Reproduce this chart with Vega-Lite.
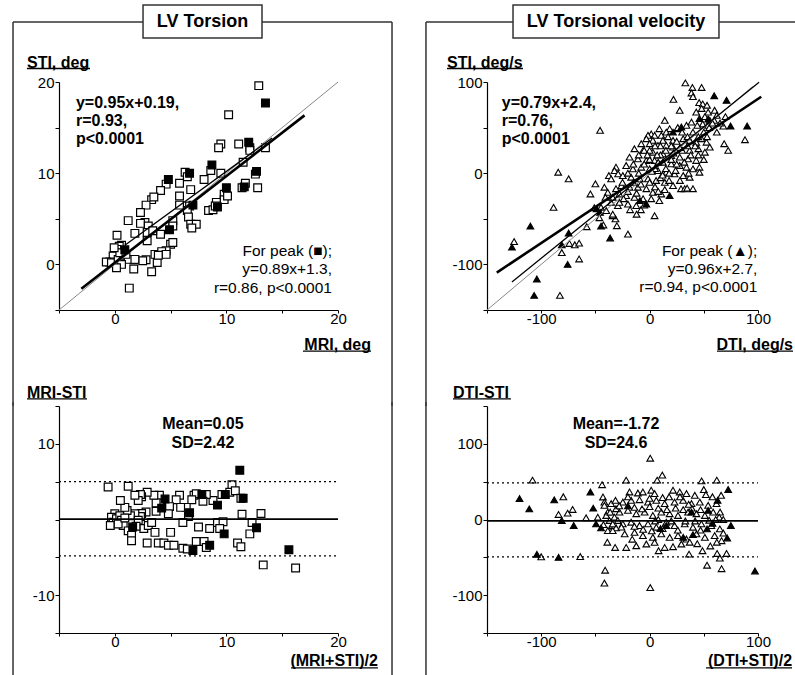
{
"$schema":"https://vega.github.io/schema/vega-lite/v6.json",
"padding":{"left":12,"top":4,"right":0,"bottom":0},
"bounds":"flush",
"columns":2,
"spacing":{"row":96,"column":149},
"config":{"font":"Liberation Sans","view":{"stroke":null},"axis":{"grid":false,"domainColor":"black","tickColor":"black","labelColor":"black","labelFont":"Liberation Sans","labelFontSize":15,"tickSize":4,"labelPadding":1,"labelFlush":false,"labelOverlap":false,"domainWidth":1.2,"tickWidth":1},"axisX":{"tickSize":3,"labelPadding":-2}},
"datasets":{
"tl":[
{"x":12.9,"y":19.6,"p":0},{"x":10.2,"y":16.4,"p":0},{"x":9.5,"y":13.2,"p":0},{"x":9.3,"y":12.8,"p":0},{"x":11.1,"y":13.2,"p":0},{"x":12.1,"y":12.8,"p":0},{"x":12.1,"y":12.5,"p":0},{"x":13.5,"y":12.8,"p":0},{"x":11.5,"y":11.2,"p":0},{"x":8.6,"y":10.3,"p":0},{"x":6.3,"y":10.1,"p":0},{"x":6.5,"y":9.6,"p":0},{"x":4.6,"y":8.8,"p":0},{"x":5.8,"y":8.9,"p":0},{"x":4.1,"y":8.1,"p":0},{"x":8.0,"y":9.3,"p":0},{"x":6.8,"y":8.2,"p":0},{"x":9.5,"y":10.0,"p":0},{"x":12.6,"y":9.9,"p":0},{"x":11.7,"y":8.9,"p":0},{"x":11.4,"y":8.4,"p":0},{"x":12.8,"y":8.4,"p":0},{"x":9.8,"y":7.7,"p":0},{"x":9.8,"y":7.1,"p":0},{"x":9.1,"y":6.8,"p":0},{"x":8.4,"y":5.9,"p":0},{"x":8.8,"y":6.0,"p":0},{"x":6.7,"y":6.4,"p":0},{"x":5.8,"y":6.5,"p":0},{"x":6.5,"y":5.9,"p":0},{"x":6.6,"y":5.2,"p":0},{"x":6.8,"y":4.4,"p":0},{"x":7.3,"y":4.4,"p":0},{"x":5.8,"y":7.5,"p":0},{"x":5.2,"y":4.8,"p":0},{"x":5.2,"y":4.2,"p":0},{"x":5.0,"y":2.2,"p":0},{"x":5.2,"y":2.4,"p":0},{"x":4.6,"y":1.5,"p":0},{"x":4.1,"y":3.3,"p":0},{"x":3.3,"y":7.1,"p":0},{"x":3.5,"y":7.4,"p":0},{"x":2.8,"y":6.5,"p":0},{"x":2.3,"y":5.7,"p":0},{"x":2.7,"y":4.6,"p":0},{"x":2.3,"y":4.5,"p":0},{"x":3.0,"y":4.2,"p":0},{"x":2.9,"y":3.5,"p":0},{"x":2.9,"y":2.6,"p":0},{"x":1.2,"y":4.8,"p":0},{"x":1.8,"y":3.4,"p":0},{"x":0.6,"y":2.1,"p":0},{"x":0.2,"y":3.2,"p":0},{"x":0.4,"y":2.0,"p":0},{"x":1.7,"y":-0.5,"p":0},{"x":3.3,"y":-0.8,"p":0},{"x":1.3,"y":-2.6,"p":0},{"x":1.7,"y":0.5,"p":0},{"x":2.8,"y":0.5,"p":0},{"x":3.6,"y":1.1,"p":0},{"x":4.2,"y":1.4,"p":0},{"x":4.6,"y":1.1,"p":0},{"x":3.8,"y":0.2,"p":0},{"x":2.5,"y":0.4,"p":0},{"x":0.18,"y":1.65,"p":0},{"x":0,"y":1.28,"p":0},{"x":-0.15,"y":0.92,"p":0},{"x":-0.45,"y":0.26,"p":0},{"x":-0.76,"y":0.26,"p":0},{"x":-0.3,"y":0.18,"p":0},{"x":0.3,"y":0.55,"p":0},{"x":0.76,"y":0.92,"p":0},{"x":1.2,"y":0.55,"p":0},{"x":1.8,"y":0.55,"p":0},{"x":0.45,"y":1.28,"p":0},{"x":-0.06,"y":1.83,"p":0},{"x":0.6,"y":0,"p":0},{"x":0.15,"y":-0.37,"p":0},{"x":9.0,"y":6.4,"p":0},{"x":10.1,"y":7.5,"p":0},{"x":3.4,"y":3.7,"p":0},{"x":3.9,"y":1.0,"p":0},{"x":1.0,"y":1.1,"p":0},{"x":6.9,"y":4.0,"p":0},
{"x":13.5,"y":17.7,"p":1},{"x":12.0,"y":13.4,"p":1},{"x":8.7,"y":10.9,"p":1},{"x":6.7,"y":10.0,"p":1},{"x":4.8,"y":9.3,"p":1},{"x":12.7,"y":10.2,"p":1},{"x":11.6,"y":8.5,"p":1},{"x":10.0,"y":8.4,"p":1},{"x":9.2,"y":6.3,"p":1},{"x":7.0,"y":6.5,"p":1},{"x":4.9,"y":3.8,"p":1},{"x":0.9,"y":1.6,"p":1}],
"tl_lines":[{"g":"id","x":-5,"y":-5},{"g":"id","x":20,"y":20},{"g":"fit","x":-3,"y":-2.66},{"g":"fit","x":17,"y":16.34},{"g":"peak","x":0.9,"y":2.1},{"g":"peak","x":14.1,"y":13.85}],
"tr":[
{"x":-45.7,"y":47,"p":0},{"x":-84.3,"y":1.1,"p":0},{"x":-74.7,"y":-6.2,"p":0},{"x":-50,"y":-11.7,"p":0},{"x":-54.6,"y":-22.8,"p":0},{"x":-88.6,"y":-37.4,"p":0},{"x":-125,"y":-75,"p":0},{"x":-74,"y":-77,"p":0},{"x":-69,"y":-78.5,"p":0},{"x":-65,"y":-76.7,"p":0},{"x":-81,"y":-87,"p":0},{"x":-65,"y":-94,"p":0},{"x":-82.7,"y":-134,"p":0},{"x":-58,"y":-58.7,"p":0},{"x":-31,"y":6.6,"p":0},{"x":-32.4,"y":2.9,"p":0},{"x":-37.6,"y":-2.6,"p":0},{"x":-35.5,"y":-6.2,"p":0},{"x":-29,"y":-0.7,"p":0},{"x":-41.7,"y":-15.4,"p":0},{"x":-31,"y":-17,"p":0},{"x":-38.6,"y":-21,"p":0},{"x":-34,"y":-26.4,"p":0},{"x":-40.7,"y":-26.4,"p":0},{"x":-29.3,"y":-35.6,"p":0},{"x":-35.5,"y":-32,"p":0},{"x":-31.5,"y":-50,"p":0},{"x":-30.2,"y":-57.6,"p":0},{"x":-44.8,"y":-37.4,"p":0},{"x":-40,"y":-41,"p":0},{"x":-34,"y":-46.6,"p":0},{"x":-51,"y":-37.8,"p":0},{"x":-46.3,"y":-48.8,"p":0},{"x":-42.6,"y":-56.8,"p":0},{"x":-34,"y":-45,"p":0},
{"x":33,"y":99,"p":0},{"x":39.5,"y":94,"p":0},{"x":48,"y":94,"p":0},{"x":38.6,"y":88,"p":0},{"x":40,"y":84,"p":0},{"x":22,"y":81,"p":0},{"x":45.7,"y":77.4,"p":0},{"x":49,"y":76,"p":0},{"x":53,"y":74.5,"p":0},{"x":48,"y":71,"p":0},{"x":54,"y":67,"p":0},{"x":27.8,"y":69,"p":0},{"x":60,"y":69,"p":0},{"x":62,"y":63.5,"p":0},{"x":43,"y":67,"p":0},{"x":14,"y":58,"p":0},{"x":51,"y":62,"p":0},{"x":55.5,"y":58,"p":0},{"x":59.6,"y":58,"p":0},{"x":49,"y":54,"p":0},{"x":54,"y":52.5,"p":0},{"x":44,"y":52.5,"p":0},{"x":38.6,"y":56,"p":0},{"x":34,"y":52.5,"p":0},{"x":18.5,"y":48.8,"p":0},{"x":25.7,"y":48.8,"p":0},{"x":68,"y":51.7,"p":0},{"x":9,"y":48.8,"p":0},{"x":15.4,"y":45,"p":0},{"x":1.5,"y":43,"p":0},{"x":-1.5,"y":41.5,"p":0},{"x":4.6,"y":41.5,"p":0},{"x":10.8,"y":41.5,"p":0},{"x":-3,"y":37.8,"p":0},{"x":3,"y":36,"p":0},{"x":12.3,"y":36,"p":0},{"x":21.6,"y":36,"p":0},{"x":31,"y":37.8,"p":0},{"x":37,"y":36,"p":0},{"x":43,"y":34,"p":0},{"x":48,"y":37.8,"p":0},{"x":52.5,"y":34,"p":0},{"x":88,"y":36.7,"p":0},{"x":68.8,"y":32.3,"p":0},{"x":72.5,"y":25,"p":0},{"x":55.5,"y":28.6,"p":0},{"x":51,"y":23,"p":0},{"x":45,"y":26.8,"p":0},{"x":37,"y":25,"p":0},{"x":29,"y":26.8,"p":0},{"x":21.6,"y":28.6,"p":0},{"x":15.4,"y":30.5,"p":0},{"x":7.7,"y":30.5,"p":0},{"x":0,"y":32.3,"p":0},{"x":-7.7,"y":32.3,"p":0},{"x":-14,"y":26.8,"p":0},{"x":-6,"y":25,"p":0},{"x":3,"y":23,"p":0},{"x":12.3,"y":21.3,"p":0},{"x":20,"y":19.4,"p":0},{"x":27.8,"y":17.6,"p":0},{"x":35.5,"y":15.8,"p":0},{"x":43,"y":14,"p":0},{"x":46,"y":6.6,"p":0},{"x":46,"y":1.1,"p":0},{"x":-18.5,"y":17.6,"p":0},{"x":-10.8,"y":15.8,"p":0},{"x":-3,"y":14,"p":0},{"x":4.6,"y":14,"p":0},{"x":12.3,"y":12,"p":0},{"x":20,"y":10.3,"p":0},{"x":27.8,"y":8.4,"p":0},{"x":34,"y":6.6,"p":0},{"x":40,"y":4.8,"p":0},{"x":-21.6,"y":8.4,"p":0},{"x":-15.4,"y":4.8,"p":0},{"x":-7.7,"y":6.6,"p":0},{"x":0,"y":4.8,"p":0},{"x":7.7,"y":2.9,"p":0},{"x":15.4,"y":1.1,"p":0},{"x":23,"y":-0.7,"p":0},{"x":31,"y":-2.6,"p":0},{"x":37,"y":-4.4,"p":0},{"x":-24.7,"y":-2.6,"p":0},{"x":-17,"y":-4.4,"p":0},{"x":-9,"y":-6.2,"p":0},{"x":-1.5,"y":-6.2,"p":0},{"x":6,"y":-8,"p":0},{"x":14,"y":-10,"p":0},{"x":21.6,"y":-13.6,"p":0},{"x":29,"y":-17,"p":0},{"x":32.4,"y":-17,"p":0},{"x":34.6,"y":-16.5,"p":0},{"x":40,"y":-17,"p":0},{"x":-26,"y":-13.6,"p":0},{"x":-18.5,"y":-15.4,"p":0},{"x":-10.8,"y":-15.4,"p":0},{"x":-3,"y":-17,"p":0},{"x":3,"y":-21,"p":0},{"x":10.8,"y":-22.8,"p":0},{"x":-27.8,"y":-22.8,"p":0},{"x":-21.6,"y":-24.6,"p":0},{"x":-14,"y":-26.4,"p":0},{"x":-6,"y":-28,"p":0},{"x":1.5,"y":-28,"p":0},{"x":9,"y":-30,"p":0},{"x":-27.8,"y":-32,"p":0},{"x":-20,"y":-33.8,"p":0},{"x":-12.3,"y":-35.6,"p":0},{"x":4.6,"y":-46.6,"p":0},{"x":-20,"y":-66.8,"p":0},
{"x":-10,"y":0,"p":0},{"x":-5,"y":10,"p":0},{"x":0,"y":15,"p":0},{"x":5,"y":5,"p":0},{"x":10,"y":20,"p":0},{"x":15,"y":25,"p":0},{"x":20,"y":30,"p":0},{"x":25,"y":35,"p":0},{"x":30,"y":25,"p":0},{"x":35,"y":40,"p":0},{"x":-15,"y":-10,"p":0},{"x":-20,"y":-20,"p":0},{"x":-25,"y":-10,"p":0},{"x":0,"y":-10,"p":0},{"x":5,"y":-15,"p":0},{"x":10,"y":-5,"p":0},{"x":15,"y":5,"p":0},{"x":20,"y":15,"p":0},{"x":25,"y":10,"p":0},{"x":30,"y":45,"p":0},{"x":35,"y":30,"p":0},{"x":40,"y":45,"p":0},{"x":45,"y":40,"p":0},{"x":10,"y":30,"p":0},{"x":-5,"y":25,"p":0},{"x":0,"y":25,"p":0},{"x":5,"y":30,"p":0},{"x":-10,"y":20,"p":0},{"x":-15,"y":10,"p":0},{"x":-20,"y":0,"p":0},{"x":18,"y":0,"p":0},{"x":12,"y":-2,"p":0},{"x":22,"y":22,"p":0},{"x":28,"y":28,"p":0},{"x":8,"y":12,"p":0},{"x":2,"y":2,"p":0},{"x":-8,"y":-12,"p":0},{"x":-12,"y":-22,"p":0},{"x":38,"y":20,"p":0},{"x":42,"y":30,"p":0},{"x":50,"y":45,"p":0},{"x":55,"y":50,"p":0},{"x":58,"y":55,"p":0},{"x":26,"y":50,"p":0},{"x":8,"y":-20,"p":0},{"x":14,"y":-18,"p":0},{"x":-24,"y":-28,"p":0},{"x":-8,"y":-40,"p":0},{"x":17,"y":40,"p":0},{"x":7,"y":20,"p":0},{"x":-2,"y":20,"p":0},{"x":24,"y":3,"p":0},{"x":32,"y":12,"p":0},{"x":45,"y":20,"p":0},{"x":53,"y":40,"p":0},{"x":62,"y":45,"p":0},{"x":65,"y":55,"p":0},{"x":70,"y":62,"p":0},{"x":-18,"y":-40,"p":0},{"x":-12,"y":-45,"p":0},{"x":-5,"y":-35,"p":0},{"x":18,"y":-8,"p":0},{"x":28,"y":-8,"p":0},{"x":36,"y":0,"p":0},{"x":50,"y":15,"p":0},
{"x":-110,"y":-58,"p":1},{"x":-127,"y":-81,"p":1},{"x":-74.7,"y":-65.7,"p":1},{"x":-81,"y":-78.5,"p":1},{"x":-75.6,"y":-100,"p":1},{"x":-104,"y":-116,"p":1},{"x":-106.5,"y":-134,"p":1},{"x":-44.8,"y":-58,"p":1},{"x":-36.4,"y":-71,"p":1},{"x":-48.8,"y":-39,"p":1},{"x":-45.7,"y":-43,"p":1},{"x":59.6,"y":85,"p":1},{"x":71,"y":80,"p":1},{"x":46,"y":60,"p":1},{"x":29.3,"y":50.6,"p":1},{"x":21.6,"y":45,"p":1},{"x":74.7,"y":51.7,"p":1},{"x":90,"y":51.7,"p":1},{"x":-9,"y":-30,"p":1},{"x":-3,"y":-33.8,"p":1},{"x":18.5,"y":-24.6,"p":1},{"x":54,"y":59.5,"p":1}],
"tr_lines":[{"g":"id","x":-150,"y":-150},{"g":"id","x":95,"y":95},{"g":"fit","x":-141,"y":-109},{"g":"fit","x":103,"y":83.8},{"g":"peak","x":-127,"y":-119.2},{"g":"peak","x":101,"y":99.7}],
"bl":[
{"x":-0.6,"y":4.3,"p":0},{"x":1.2,"y":4.4,"p":0},{"x":10.5,"y":4.6,"p":0},{"x":10.3,"y":3.6,"p":0},{"x":9.6,"y":3.3,"p":0},{"x":10.8,"y":3.8,"p":0},{"x":8.8,"y":2.5,"p":0},{"x":8.2,"y":3.3,"p":0},{"x":7.9,"y":2.4,"p":0},{"x":7.1,"y":3.2,"p":0},{"x":7.3,"y":3.4,"p":0},{"x":6.9,"y":2.6,"p":0},{"x":5.8,"y":3.2,"p":0},{"x":5.5,"y":2.6,"p":0},{"x":6.4,"y":1.6,"p":0},{"x":5.9,"y":1.6,"p":0},{"x":6.6,"y":0.4,"p":0},{"x":6.1,"y":-0.4,"p":0},{"x":4.0,"y":3.2,"p":0},{"x":3.7,"y":2.2,"p":0},{"x":3.5,"y":3.2,"p":0},{"x":2.9,"y":3.6,"p":0},{"x":2.4,"y":3.0,"p":0},{"x":2.3,"y":3.3,"p":0},{"x":2.1,"y":2.5,"p":0},{"x":1.8,"y":3.2,"p":0},{"x":4.7,"y":1.6,"p":0},{"x":4.9,"y":1.7,"p":0},{"x":4.8,"y":0.75,"p":0},{"x":3.7,"y":1.1,"p":0},{"x":2.8,"y":1.0,"p":0},{"x":2.4,"y":0.8,"p":0},{"x":2.3,"y":0.4,"p":0},{"x":1.8,"y":0.75,"p":0},{"x":1.4,"y":0.5,"p":0},{"x":1.1,"y":1.2,"p":0},{"x":0.9,"y":1.6,"p":0},{"x":0.5,"y":2.5,"p":0},{"x":0,"y":0.75,"p":0},{"x":-0.3,"y":0.3,"p":0},{"x":-0.15,"y":-0.35,"p":0},{"x":0.15,"y":0.1,"p":0},{"x":0.45,"y":0.5,"p":0},{"x":0.6,"y":-0.1,"p":0},{"x":0.75,"y":-0.8,"p":0},{"x":1.2,"y":-1.5,"p":0},{"x":1.5,"y":-2.1,"p":0},{"x":1.5,"y":-2.8,"p":0},{"x":2.1,"y":-0.1,"p":0},{"x":2.6,"y":-1.2,"p":0},{"x":3.0,"y":-0.8,"p":0},{"x":3.3,"y":-0.4,"p":0},{"x":3.6,"y":-1.7,"p":0},{"x":2.9,"y":-3.1,"p":0},{"x":3.9,"y":-3.1,"p":0},{"x":4.4,"y":-3.1,"p":0},{"x":4.8,"y":-3.4,"p":0},{"x":5.3,"y":-3.4,"p":0},{"x":5.0,"y":-1.7,"p":0},{"x":6.1,"y":-3.8,"p":0},{"x":6.5,"y":-3.9,"p":0},{"x":7.3,"y":-2.9,"p":0},{"x":8.0,"y":-2.9,"p":0},{"x":8.2,"y":-3.7,"p":0},{"x":7.5,"y":-1.0,"p":0},{"x":8.5,"y":-1.2,"p":0},{"x":9.2,"y":-0.4,"p":0},{"x":9.7,"y":-0.3,"p":0},{"x":9.4,"y":-1.2,"p":0},{"x":11.0,"y":-3.1,"p":0},{"x":11.3,"y":-3.6,"p":0},{"x":11.4,"y":0.7,"p":0},{"x":12.3,"y":-0.4,"p":0},{"x":12.1,"y":-1.9,"p":0},{"x":13.1,"y":0.8,"p":0},{"x":13.3,"y":-6.0,"p":0},{"x":16.2,"y":-6.4,"p":0},{"x":11.3,"y":2.8,"p":0},{"x":-0.4,"y":-0.8,"p":0},{"x":0.3,"y":-0.6,"p":0},{"x":0.9,"y":0.2,"p":0},{"x":1.9,"y":-0.9,"p":0},
{"x":11.2,"y":6.5,"p":1},{"x":11.5,"y":2.8,"p":1},{"x":9.9,"y":3.3,"p":1},{"x":9.2,"y":1.9,"p":1},{"x":7.8,"y":3.3,"p":1},{"x":6.7,"y":0.9,"p":1},{"x":4.5,"y":2.7,"p":1},{"x":4.2,"y":1.5,"p":1},{"x":1.6,"y":-1.0,"p":1},{"x":7.0,"y":-4.1,"p":1},{"x":8.5,"y":-3.4,"p":1},{"x":9.8,"y":-1.9,"p":1},{"x":12.7,"y":-1.1,"p":1},{"x":15.6,"y":-4.0,"p":1}],
"br":[
{"x":0.6,"y":81,"p":0},{"x":-108,"y":52,"p":0},{"x":-79.6,"y":30,"p":0},{"x":-84,"y":6.7,"p":0},{"x":-75.6,"y":8.4,"p":0},{"x":-71,"y":13.3,"p":0},{"x":-58.6,"y":2.2,"p":0},{"x":-43.8,"y":46,"p":0},{"x":-43,"y":29.8,"p":0},{"x":-41.7,"y":23,"p":0},{"x":-47.8,"y":3,"p":0},{"x":-38.6,"y":9.8,"p":0},{"x":-37,"y":-1.3,"p":0},{"x":-34.6,"y":-8,"p":0},{"x":-30.9,"y":-11,"p":0},{"x":-35.5,"y":-14.7,"p":0},{"x":-39,"y":-30,"p":0},{"x":-31.8,"y":-37,"p":0},{"x":-100,"y":-49.3,"p":0},{"x":-64,"y":-49,"p":0},{"x":-41,"y":-67,"p":0},{"x":-41.7,"y":-84,"p":0},{"x":-21.6,"y":52,"p":0},{"x":11.7,"y":58.7,"p":0},{"x":7,"y":52,"p":0},{"x":48,"y":51,"p":0},{"x":62,"y":52,"p":0},{"x":50,"y":39.6,"p":0},{"x":65,"y":9.8,"p":0},{"x":53,"y":-60.4,"p":0},{"x":66.4,"y":-65,"p":0},{"x":36.4,"y":-45.8,"p":0},{"x":48.8,"y":-41.3,"p":0},{"x":62.3,"y":-44.9,"p":0},{"x":71,"y":-44.9,"p":0},{"x":64.8,"y":-51,"p":0},{"x":21.6,"y":-36,"p":0},{"x":8.3,"y":-41.3,"p":0},{"x":0.6,"y":-90,"p":0},
{"x":-18.5,"y":36.4,"p":0},{"x":-10.8,"y":35,"p":0},{"x":-6.2,"y":36.4,"p":0},{"x":1.5,"y":38.7,"p":0},{"x":4.6,"y":34.2,"p":0},{"x":21.6,"y":38.7,"p":0},{"x":27.8,"y":36.4,"p":0},{"x":34,"y":34.2,"p":0},{"x":41.7,"y":32,"p":0},{"x":51.9,"y":33,"p":0},{"x":-24.7,"y":23,"p":0},{"x":-17,"y":25.3,"p":0},{"x":-9.3,"y":26.2,"p":0},{"x":-1.5,"y":23,"p":0},{"x":6.2,"y":25.3,"p":0},{"x":13.9,"y":21,"p":0},{"x":23,"y":23,"p":0},{"x":30.9,"y":25.3,"p":0},{"x":38.6,"y":21,"p":0},{"x":46.3,"y":23,"p":0},{"x":54,"y":18.7,"p":0},{"x":61.7,"y":21,"p":0},{"x":-27.8,"y":9.8,"p":0},{"x":-20,"y":12,"p":0},{"x":-12.3,"y":7.6,"p":0},{"x":-4.6,"y":9.8,"p":0},{"x":3,"y":5.3,"p":0},{"x":10.8,"y":9.8,"p":0},{"x":18.5,"y":7.6,"p":0},{"x":26.2,"y":5.3,"p":0},{"x":35.5,"y":9.8,"p":0},{"x":43.2,"y":7.6,"p":0},{"x":51,"y":5.3,"p":0},{"x":58.6,"y":9.8,"p":0},{"x":64.2,"y":3.1,"p":0},{"x":-24.7,"y":-5.8,"p":0},{"x":-17,"y":-3.6,"p":0},{"x":-9.3,"y":-8,"p":0},{"x":-1.5,"y":-5.8,"p":0},{"x":6.2,"y":-10.2,"p":0},{"x":15.4,"y":-3.6,"p":0},{"x":23,"y":-8,"p":0},{"x":32.4,"y":-5.8,"p":0},{"x":40,"y":-10.2,"p":0},{"x":47.8,"y":-5.8,"p":0},{"x":57,"y":-8,"p":0},{"x":64.8,"y":-12.4,"p":0},{"x":-23,"y":-19,"p":0},{"x":-13.9,"y":-17,"p":0},{"x":-6.2,"y":-21.3,"p":0},{"x":3,"y":-23.6,"p":0},{"x":10.8,"y":-19,"p":0},{"x":18.5,"y":-23.6,"p":0},{"x":26.2,"y":-21.3,"p":0},{"x":34,"y":-25.8,"p":0},{"x":43.2,"y":-19,"p":0},{"x":51,"y":-23.6,"p":0},{"x":60,"y":-21.3,"p":0},{"x":66.4,"y":-28,"p":0},{"x":-21.6,"y":-36.9,"p":0},{"x":-12.3,"y":-34.7,"p":0},{"x":-3,"y":-32.4,"p":0},{"x":4.6,"y":-30.2,"p":0},{"x":13.9,"y":-36.9,"p":0},{"x":29.3,"y":-32.4,"p":0},{"x":-40,"y":5.3,"p":0},{"x":-36.4,"y":9.8,"p":0},{"x":-32.4,"y":3.1,"p":0},{"x":-29.3,"y":-1.3,"p":0},{"x":-34,"y":-5.8,"p":0},{"x":-42.6,"y":-6.7,"p":0},{"x":-31,"y":14.2,"p":0},{"x":-35.5,"y":21,"p":0},{"x":-31.5,"y":25.3,"p":0},{"x":-41.7,"y":18.7,"p":0},{"x":-38.6,"y":-14.7,"p":0},{"x":-34,"y":-14.7,"p":0},
{"x":-14,"y":16,"p":0},{"x":-7,"y":14,"p":0},{"x":0,"y":17,"p":0},{"x":8,"y":15,"p":0},{"x":16,"y":13,"p":0},{"x":24,"y":15,"p":0},{"x":31,"y":13,"p":0},{"x":39,"y":15,"p":0},{"x":47,"y":13,"p":0},{"x":55,"y":-1,"p":0},{"x":61,"y":0,"p":0},{"x":47,"y":-14,"p":0},{"x":37,"y":-30,"p":0},{"x":20,"y":-2,"p":0},{"x":8,"y":0,"p":0},{"x":-6,"y":-13,"p":0},{"x":2,"y":-15,"p":0},{"x":12,"y":-12,"p":0},{"x":26,"y":-14,"p":0},{"x":-26,"y":-10,"p":0},{"x":-16,"y":-26,"p":0},{"x":0,"y":28,"p":0},{"x":12,"y":29,"p":0},{"x":18,"y":30,"p":0},{"x":28,"y":30,"p":0},{"x":-20,"y":30,"p":0},{"x":-28,"y":18,"p":0},{"x":33,"y":-2,"p":0},{"x":42,"y":-2,"p":0},{"x":5,"y":-2,"p":0},{"x":-14,"y":-9,"p":0},{"x":36,"y":20,"p":0},{"x":44,"y":-32,"p":0},{"x":56,"y":-35,"p":0},{"x":62,"y":-30,"p":0},{"x":68,"y":-18,"p":0},{"x":68,"y":0,"p":0},{"x":58,"y":30,"p":0},{"x":66,"y":32,"p":0},
{"x":-120,"y":27.6,"p":1},{"x":-111,"y":14,"p":1},{"x":-88,"y":26,"p":1},{"x":-81,"y":-1.3,"p":1},{"x":-70,"y":-8,"p":1},{"x":-54.6,"y":36.4,"p":1},{"x":-52,"y":15,"p":1},{"x":-49.4,"y":-5.8,"p":1},{"x":-44.8,"y":-11,"p":1},{"x":-104,"y":-46,"p":1},{"x":-84,"y":-50,"p":1},{"x":72.5,"y":39.6,"p":1},{"x":62.7,"y":25.3,"p":1},{"x":54,"y":12,"p":1},{"x":53,"y":-12.4,"p":1},{"x":75,"y":-8,"p":1},{"x":71.6,"y":-24.4,"p":1},{"x":97.2,"y":-68,"p":1},{"x":31,"y":-23.6,"p":1},{"x":15.4,"y":-8,"p":1},{"x":38.6,"y":9.8,"p":1},{"x":-20,"y":18,"p":1},{"x":10,"y":-12,"p":1},{"x":40,"y":-20,"p":1},{"x":58,"y":-5,"p":1}]
},
"concat":[
{"width":279,"height":228,"data":{"values":[{}]},"layer":[
{"data":{"name":"tl"},"mark":{"type":"point","shape":"square","filled":true,"stroke":"black","strokeWidth":1.2,"size":60,"opacity":1},"encoding":{"x":{"field":"x","type":"quantitative","scale":{"domain":[-5,20],"nice":false,"zero":false},"axis":{"title":null,"tickCount":20,"values":[-5,0,5,10,15,20],"labelExpr":"datum.value % 10 === 0 ? '' + datum.value : ''"}},"y":{"field":"y","type":"quantitative","scale":{"domain":[-5,20],"nice":false,"zero":false},"axis":{"title":null,"tickCount":20,"values":[-5,0,5,10,15,20],"labelExpr":"datum.value % 10 === 0 ? '' + datum.value : ''"}},"fill":{"field":"p","type":"nominal","scale":{"domain":[0,1],"range":["white","black"]},"legend":null}}},
{"mark":{"type":"rule","clip":false,"color":"#333","strokeWidth":1.5},"encoding":{"x":{"datum":-9.12,"type":"quantitative"},"x2":{"datum":24.84},"y":{"datum":26.58,"type":"quantitative"}}},
{"mark":{"type":"rule","clip":false,"color":"#333","strokeWidth":1.5},"encoding":{"x":{"datum":-9.12,"type":"quantitative"},"y":{"datum":26.58,"type":"quantitative"},"y2":{"datum":-15.5}}},
{"mark":{"type":"rule","clip":false,"color":"#333","strokeWidth":1.5},"encoding":{"x":{"datum":24.84,"type":"quantitative"},"y":{"datum":26.58,"type":"quantitative"},"y2":{"datum":-15.5}}},
{"mark":{"type":"rect","clip":false,"fill":"white","stroke":"#333","strokeWidth":1.5},"encoding":{"x":{"datum":2.53,"type":"quantitative"},"x2":{"datum":13.19},"y":{"datum":28.44,"type":"quantitative"},"y2":{"datum":24.82}}},
{"mark":{"type":"text","clip":false,"fontSize":18,"fontWeight":"bold","align":"center","baseline":"middle"},"encoding":{"x":{"datum":7.86,"type":"quantitative"},"y":{"datum":26.58,"type":"quantitative"},"text":{"value":"LV Torsion"}}},
{"data":{"name":"tl_lines"},"transform":[{"filter":"datum.g === 'id'"}],"mark":{"type":"line","color":"#888","strokeWidth":1},"encoding":{"x":{"field":"x","type":"quantitative"},"y":{"field":"y","type":"quantitative"}}},
{"data":{"name":"tl_lines"},"transform":[{"filter":"datum.g === 'fit'"}],"mark":{"type":"line","color":"black","strokeWidth":2.6},"encoding":{"x":{"field":"x","type":"quantitative"},"y":{"field":"y","type":"quantitative"}}},
{"data":{"name":"tl_lines"},"transform":[{"filter":"datum.g === 'peak'"}],"mark":{"type":"line","color":"black","strokeWidth":1.3},"encoding":{"x":{"field":"x","type":"quantitative"},"y":{"field":"y","type":"quantitative"}}},
{"mark":{"type":"text","clip":false,"fontSize":16,"fontWeight":"bold","align":"left","baseline":"top","lineHeight":18.3},"encoding":{"x":{"datum":-3.48,"type":"quantitative"},"y":{"datum":18.6,"type":"quantitative"},"text":{"value":["y=0.95x+0.19,","r=0.93,","p<0.0001"]}}},
{"mark":{"type":"text","clip":false,"fontSize":15.5,"align":"right","baseline":"top","lineHeight":18.3},"encoding":{"x":{"datum":19.46,"type":"quantitative"},"y":{"datum":2.24,"type":"quantitative"},"text":{"value":["For peak (■);","y=0.89x+1.3,","r=0.86, p<0.0001"]}}},
{"mark":{"type":"text","clip":false,"fontSize":16,"fontWeight":"bold","align":"left","baseline":"middle"},"encoding":{"x":{"datum":-7.87,"type":"quantitative"},"y":{"datum":22.08,"type":"quantitative"},"text":{"value":"STI, deg"}}},
{"mark":{"type":"rule","clip":false,"color":"black","strokeWidth":1.3},"encoding":{"x":{"datum":-7.87,"type":"quantitative"},"x2":{"datum":-2.22},"y":{"datum":21.48,"type":"quantitative"}}},
{"mark":{"type":"text","clip":false,"fontSize":16,"fontWeight":"bold","align":"right","baseline":"middle"},"encoding":{"x":{"datum":22.96,"type":"quantitative"},"y":{"datum":-8.84,"type":"quantitative"},"text":{"value":"MRI, deg"}}},
{"mark":{"type":"rule","clip":false,"color":"black","strokeWidth":1.3},"encoding":{"x":{"datum":16.86,"type":"quantitative"},"x2":{"datum":22.96},"y":{"datum":-9.5,"type":"quantitative"}}}
]},
{"width":271,"height":228,"data":{"values":[{}]},"layer":[
{"data":{"name":"tr"},"mark":{"type":"point","shape":"triangle-up","filled":true,"stroke":"black","strokeWidth":1.1,"size":45,"opacity":1},"encoding":{"x":{"field":"x","type":"quantitative","scale":{"domain":[-150,100],"nice":false,"zero":false},"axis":{"title":null,"tickCount":20,"values":[-150,-100,-50,0,50,100],"labelExpr":"datum.value % 100 === 0 ? '' + datum.value : ''"}},"y":{"field":"y","type":"quantitative","scale":{"domain":[-150,100],"nice":false,"zero":false},"axis":{"title":null,"tickCount":20,"values":[-150,-100,-50,0,50,100],"labelExpr":"datum.value % 100 === 0 ? '' + datum.value : ''"}},"fill":{"field":"p","type":"nominal","scale":{"domain":[0,1],"range":["white","black"]},"legend":null}}},
{"mark":{"type":"rule","clip":false,"color":"#333","strokeWidth":1.5},"encoding":{"x":{"datum":-206.3,"type":"quantitative"},"x2":{"datum":160},"y":{"datum":165.8,"type":"quantitative"}}},
{"mark":{"type":"rule","clip":false,"color":"#333","strokeWidth":1.5},"encoding":{"x":{"datum":-206.3,"type":"quantitative"},"y":{"datum":165.8,"type":"quantitative"},"y2":{"datum":-255.3}}},
{"mark":{"type":"rect","clip":false,"fill":"white","stroke":"#333","strokeWidth":1.5},"encoding":{"x":{"datum":-126,"type":"quantitative"},"x2":{"datum":64},"y":{"datum":184.4,"type":"quantitative"},"y2":{"datum":148.2}}},
{"mark":{"type":"text","clip":false,"fontSize":18,"fontWeight":"bold","align":"center","baseline":"middle"},"encoding":{"x":{"datum":-31,"type":"quantitative"},"y":{"datum":165.8,"type":"quantitative"},"text":{"value":"LV Torsional velocity"}}},
{"data":{"name":"tr_lines"},"transform":[{"filter":"datum.g === 'id'"}],"mark":{"type":"line","color":"#888","strokeWidth":1},"encoding":{"x":{"field":"x","type":"quantitative"},"y":{"field":"y","type":"quantitative"}}},
{"data":{"name":"tr_lines"},"transform":[{"filter":"datum.g === 'fit'"}],"mark":{"type":"line","color":"black","strokeWidth":2.6},"encoding":{"x":{"field":"x","type":"quantitative"},"y":{"field":"y","type":"quantitative"}}},
{"data":{"name":"tr_lines"},"transform":[{"filter":"datum.g === 'peak'"}],"mark":{"type":"line","color":"black","strokeWidth":1.3},"encoding":{"x":{"field":"x","type":"quantitative"},"y":{"field":"y","type":"quantitative"}}},
{"mark":{"type":"text","clip":false,"fontSize":16,"fontWeight":"bold","align":"left","baseline":"top","lineHeight":18.3},"encoding":{"x":{"datum":-136.4,"type":"quantitative"},"y":{"datum":86.1,"type":"quantitative"},"text":{"value":["y=0.79x+2.4,","r=0.76,","p<0.0001"]}}},
{"mark":{"type":"text","clip":false,"fontSize":15.5,"align":"right","baseline":"top","lineHeight":18.3},"encoding":{"x":{"datum":99.4,"type":"quantitative"},"y":{"datum":-77.3,"type":"quantitative"},"text":{"value":["For peak (▲);","y=0.96x+2.7,","r=0.94, p<0.0001"]}}},
{"mark":{"type":"text","clip":false,"fontSize":16,"fontWeight":"bold","align":"left","baseline":"middle"},"encoding":{"x":{"datum":-186.9,"type":"quantitative"},"y":{"datum":120.8,"type":"quantitative"},"text":{"value":"STI, deg/s"}}},
{"mark":{"type":"rule","clip":false,"color":"black","strokeWidth":1.3},"encoding":{"x":{"datum":-186.9,"type":"quantitative"},"x2":{"datum":-116.8},"y":{"datum":114.8,"type":"quantitative"}}},
{"mark":{"type":"text","clip":false,"fontSize":16,"fontWeight":"bold","align":"right","baseline":"middle"},"encoding":{"x":{"datum":132.3,"type":"quantitative"},"y":{"datum":-188.4,"type":"quantitative"},"text":{"value":"DTI, deg/s"}}},
{"mark":{"type":"rule","clip":false,"color":"black","strokeWidth":1.3},"encoding":{"x":{"datum":62.2,"type":"quantitative"},"x2":{"datum":132.3},"y":{"datum":-195,"type":"quantitative"}}}
]},
{"width":279,"height":227,"data":{"values":[{}]},"layer":[
{"data":{"name":"bl"},"mark":{"type":"point","shape":"square","filled":true,"stroke":"black","strokeWidth":1.2,"size":60,"opacity":1},"encoding":{"x":{"field":"x","type":"quantitative","scale":{"domain":[-5,20],"nice":false,"zero":false},"axis":{"title":null,"tickCount":20,"values":[-5,0,5,10,15,20],"labelExpr":"datum.value % 10 === 0 ? '' + datum.value : ''"}},"y":{"field":"y","type":"quantitative","scale":{"domain":[-15,15],"nice":false,"zero":false},"axis":{"title":null,"tickCount":20,"values":[-15,-10,-5,0,5,10,15],"labelExpr":"datum.value !== 0 && datum.value % 10 === 0 ? '' + datum.value : ''"}},"fill":{"field":"p","type":"nominal","scale":{"domain":[0,1],"range":["white","black"]},"legend":null}}},
{"mark":{"type":"rule","clip":false,"color":"#333","strokeWidth":1.5},"encoding":{"x":{"datum":-9.12,"type":"quantitative"},"y":{"datum":15.5,"type":"quantitative"},"y2":{"datum":-23.85}}},
{"mark":{"type":"rule","clip":false,"color":"#333","strokeWidth":1.5},"encoding":{"x":{"datum":24.84,"type":"quantitative"},"y":{"datum":15.5,"type":"quantitative"},"y2":{"datum":-23.85}}},
{"mark":{"type":"rule","clip":false,"color":"black","strokeWidth":1.2,"strokeDash":[2,3]},"encoding":{"x":{"datum":-5,"type":"quantitative"},"x2":{"datum":20},"y":{"datum":5.0,"type":"quantitative"}}},
{"mark":{"type":"rule","clip":false,"color":"black","strokeWidth":1.2,"strokeDash":[2,3]},"encoding":{"x":{"datum":-5,"type":"quantitative"},"x2":{"datum":20},"y":{"datum":-4.8,"type":"quantitative"}}},
{"mark":{"type":"rule","clip":false,"color":"black","strokeWidth":1.8},"encoding":{"x":{"datum":-5,"type":"quantitative"},"x2":{"datum":20},"y":{"datum":0.05,"type":"quantitative"}}},
{"mark":{"type":"text","clip":false,"fontSize":16,"fontWeight":"bold","align":"center","baseline":"middle"},"encoding":{"x":{"datum":7.9,"type":"quantitative"},"y":{"datum":12.62,"type":"quantitative"},"text":{"value":"Mean=0.05"}}},
{"mark":{"type":"text","clip":false,"fontSize":16,"fontWeight":"bold","align":"center","baseline":"middle"},"encoding":{"x":{"datum":7.9,"type":"quantitative"},"y":{"datum":10.11,"type":"quantitative"},"text":{"value":"SD=2.42"}}},
{"mark":{"type":"text","clip":false,"fontSize":16,"fontWeight":"bold","align":"left","baseline":"middle"},"encoding":{"x":{"datum":-7.87,"type":"quantitative"},"y":{"datum":16.72,"type":"quantitative"},"text":{"value":"MRI-STI"}}},
{"mark":{"type":"rule","clip":false,"color":"black","strokeWidth":1.3},"encoding":{"x":{"datum":-7.87,"type":"quantitative"},"x2":{"datum":-2.49},"y":{"datum":15.93,"type":"quantitative"}}},
{"mark":{"type":"text","clip":false,"fontSize":16,"fontWeight":"bold","align":"right","baseline":"middle"},"encoding":{"x":{"datum":23.58,"type":"quantitative"},"y":{"datum":-18.7,"type":"quantitative"},"text":{"value":"(MRI+STI)/2"}}},
{"mark":{"type":"rule","clip":false,"color":"black","strokeWidth":1.3},"encoding":{"x":{"datum":15.79,"type":"quantitative"},"x2":{"datum":23.58},"y":{"datum":-19.62,"type":"quantitative"}}}
]},
{"width":271,"height":227,"data":{"values":[{}]},"layer":[
{"data":{"name":"br"},"mark":{"type":"point","shape":"triangle-up","filled":true,"stroke":"black","strokeWidth":1.1,"size":45,"opacity":1},"encoding":{"x":{"field":"x","type":"quantitative","scale":{"domain":[-150,100],"nice":false,"zero":false},"axis":{"title":null,"tickCount":20,"values":[-150,-100,-50,0,50,100],"labelExpr":"datum.value % 100 === 0 ? '' + datum.value : ''"}},"y":{"field":"y","type":"quantitative","scale":{"domain":[-150,150],"nice":false,"zero":false},"axis":{"title":null,"tickCount":20,"values":[-150,-100,-50,0,50,100,150],"labelExpr":"datum.value % 100 === 0 ? '' + datum.value : ''"}},"fill":{"field":"p","type":"nominal","scale":{"domain":[0,1],"range":["white","black"]},"legend":null}}},
{"mark":{"type":"rule","clip":false,"color":"#333","strokeWidth":1.5},"encoding":{"x":{"datum":-206.3,"type":"quantitative"},"y":{"datum":155,"type":"quantitative"},"y2":{"datum":-238.5}}},
{"mark":{"type":"rule","clip":false,"color":"black","strokeWidth":1.2,"strokeDash":[2,3]},"encoding":{"x":{"datum":-150,"type":"quantitative"},"x2":{"datum":100},"y":{"datum":48.5,"type":"quantitative"}}},
{"mark":{"type":"rule","clip":false,"color":"black","strokeWidth":1.2,"strokeDash":[2,3]},"encoding":{"x":{"datum":-150,"type":"quantitative"},"x2":{"datum":100},"y":{"datum":-49.5,"type":"quantitative"}}},
{"mark":{"type":"rule","clip":false,"color":"black","strokeWidth":1.8},"encoding":{"x":{"datum":-150,"type":"quantitative"},"x2":{"datum":100},"y":{"datum":-1.72,"type":"quantitative"}}},
{"mark":{"type":"text","clip":false,"fontSize":16,"fontWeight":"bold","align":"center","baseline":"middle"},"encoding":{"x":{"datum":-31,"type":"quantitative"},"y":{"datum":126.2,"type":"quantitative"},"text":{"value":"Mean=-1.72"}}},
{"mark":{"type":"text","clip":false,"fontSize":16,"fontWeight":"bold","align":"center","baseline":"middle"},"encoding":{"x":{"datum":-31,"type":"quantitative"},"y":{"datum":101.1,"type":"quantitative"},"text":{"value":"SD=24.6"}}},
{"mark":{"type":"text","clip":false,"fontSize":16,"fontWeight":"bold","align":"left","baseline":"middle"},"encoding":{"x":{"datum":-181.4,"type":"quantitative"},"y":{"datum":167.2,"type":"quantitative"},"text":{"value":"DTI-STI"}}},
{"mark":{"type":"rule","clip":false,"color":"black","strokeWidth":1.3},"encoding":{"x":{"datum":-181.4,"type":"quantitative"},"x2":{"datum":-127.9},"y":{"datum":159.3,"type":"quantitative"}}},
{"mark":{"type":"text","clip":false,"fontSize":16,"fontWeight":"bold","align":"right","baseline":"middle"},"encoding":{"x":{"datum":131.4,"type":"quantitative"},"y":{"datum":-187,"type":"quantitative"},"text":{"value":"(DTI+STI)/2"}}},
{"mark":{"type":"rule","clip":false,"color":"black","strokeWidth":1.3},"encoding":{"x":{"datum":52,"type":"quantitative"},"x2":{"datum":131.4},"y":{"datum":-196.2,"type":"quantitative"}}}
]}
]
}
